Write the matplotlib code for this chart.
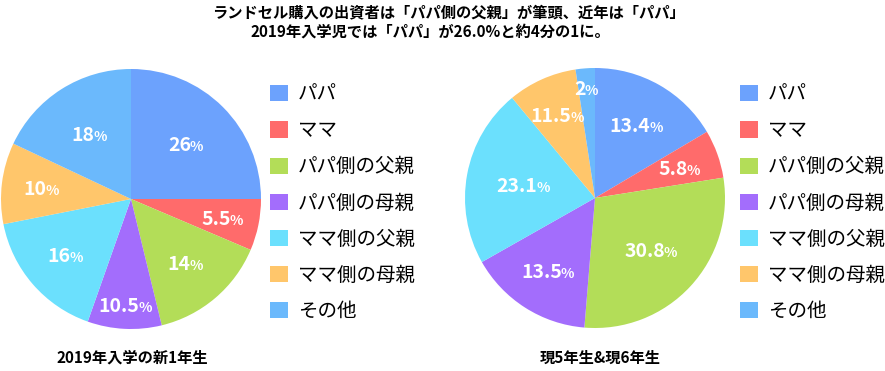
import numpy as np
import matplotlib.pyplot as plt
from matplotlib.patches import Patch
from matplotlib.transforms import offset_copy

plt.rcParams['font.family'] = ['Noto Sans CJK JP', 'DejaVu Sans']

# データ
labels = ['パパ', 'ママ', 'パパ側の父親', 'パパ側の母親', 'ママ側の父親', 'ママ側の母親', 'その他']
# 表示されている数値
new1 = [26, 5.5, 14, 10.5, 16, 10, 18]
cur56 = [13.4, 5.8, 30.8, 13.5, 23.1, 11.5, 2]
# 図で実際に描かれている扇形の割合
new1_drawn = [25, 6.4, 14.8, 9.2, 16.5, 10.1, 18]
cur56_drawn = [16.5, 6, 28.8, 15.5, 22.2, 8.6, 2.4]
titles = ['2019年入学の新1年生', '現5年生&現6年生']
colors = ['#6ca2fd', '#ff6b6b', '#b3dd58', '#a36dfc', '#6be0fd', '#ffc66b', '#6bb9fc']

# ラベル位置(中心からの距離)
lab_r = [[0.60, 0.72, 0.65, 0.82, 0.66, 0.69, 0.59],
         [0.65, 0.69, 0.59, 0.67, 0.56, 0.70, 0.85]]

W, H = 885, 371
fig = plt.figure(figsize=(W / 100, H / 100), dpi=100)

def px_axes(cx, cy, r):
    return fig.add_axes([(cx - r) / W, (H - cy - r) / H, 2 * r / W, 2 * r / H])

ax1 = px_axes(131, 199, 130)
ax2 = px_axes(595, 198, 130)

lbls = []
for ax, shown, drawn, rr in [(ax1, new1, new1_drawn, lab_r[0]),
                             (ax2, cur56, cur56_drawn, lab_r[1])]:
    ax.pie(drawn, colors=colors, startangle=90, counterclock=False,
           radius=1, wedgeprops=dict(linewidth=0))
    ax.set_xlim(-1, 1)
    ax.set_ylim(-1, 1)
    ax.set_aspect('equal')
    ax.axis('off')
    tot = sum(drawn)
    cum = 0
    for v, d, r in zip(shown, drawn, rr):
        mid = np.deg2rad(90 - 360 * (cum + d / 2) / tot)
        cum += d
        x, y = r * np.cos(mid), r * np.sin(mid)
        t1 = ax.text(x, y, f'{v:g}', color='white', fontsize=14, fontweight='bold',
                     ha='left', va='baseline')
        t2 = ax.text(x, y, '%', color='white', fontsize=10, fontweight='bold',
                     ha='left', va='baseline')
        lbls.append((ax, t1, t2))

# 数字と%をまとめて中央揃え
fig.canvas.draw()
rend = fig.canvas.get_renderer()
for ax, t1, t2 in lbls:
    w1 = t1.get_window_extent(rend).width
    w2 = t2.get_window_extent(rend).width
    left = -(w1 + w2) / 2
    t1.set_transform(offset_copy(ax.transData, fig, x=left, y=-7, units='dots'))
    t2.set_transform(offset_copy(ax.transData, fig, x=left + w1 - 1, y=-7, units='dots'))

handles = [Patch(facecolor=c, edgecolor='none') for c in colors]
for x0 in (270, 740):
    fig.legend(handles, labels, loc='upper left',
               bbox_to_anchor=(x0 / W, 1 - 84 / H), frameon=False,
               fontsize=14, handlelength=0.9, handleheight=0.9,
               handletextpad=0.55, labelspacing=0.78, borderaxespad=0,
               borderpad=0)

fig.text(448 / W, 1 - 12 / H, 'ランドセル購入の出資者は「パパ側の父親」が筆頭、近年は「パパ」',
         ha='center', va='center', fontsize=11, fontweight='bold')
fig.text(430 / W, 1 - 32 / H, '2019年入学児では「パパ」が26.0%と約4分の1に。',
         ha='center', va='center', fontsize=11, fontweight='bold')

for cx, s in zip((132, 600), titles):
    fig.text(cx / W, 1 - 358 / H, s, ha='center', va='center',
             fontsize=11, fontweight='bold')

fig.savefig('out.png', dpi=100)
